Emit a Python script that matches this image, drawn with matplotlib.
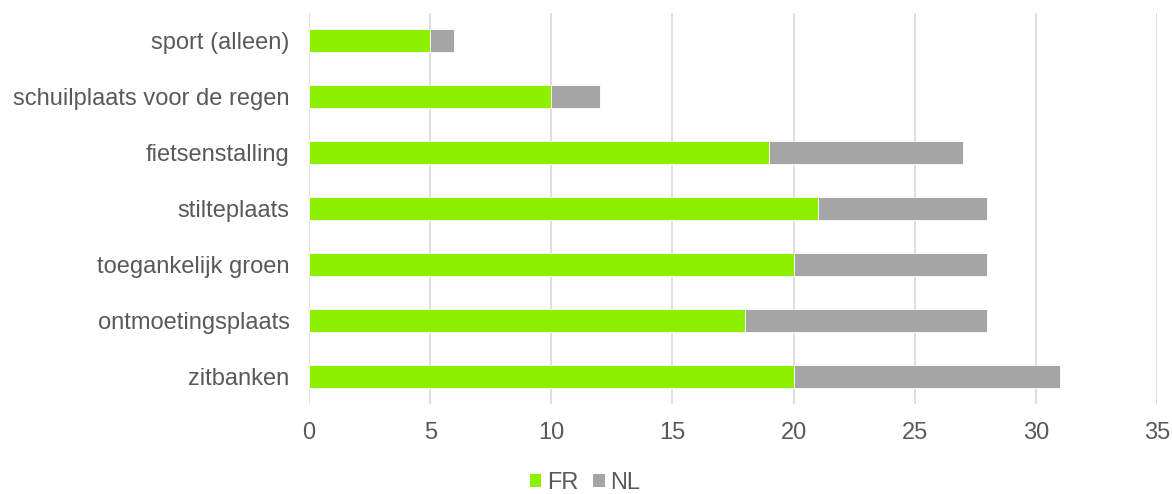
import matplotlib
matplotlib.use("Agg")
import matplotlib.pyplot as plt
from matplotlib.patches import Patch

categories = ["zitbanken", "ontmoetingsplaats", "toegankelijk groen", "stilteplaats",
              "fietsenstalling", "schuilplaats voor de regen", "sport (alleen)"]
fr = [20, 18, 20, 21, 19, 10, 5]
nl = [11, 10, 8, 7, 8, 2, 1]
xticks = [0, 5, 10, 15, 20, 25, 30, 35]

plt.rcParams['font.family'] = ['Liberation Sans', 'DejaVu Sans']
txt = '#595959'
green = '#8CF000'
gray = '#A5A5A5'

fig = plt.figure(figsize=(11.72, 4.94), dpi=100)
ax = fig.add_axes([0.2637, 0.1822, 0.7235, 0.7915])
y = list(range(len(categories)))
ax.barh(y, fr, height=0.41, color=green, edgecolor='white', linewidth=0.6, zorder=3)
ax.barh(y, nl, left=fr, height=0.41, color=gray, edgecolor='white', linewidth=0.6, zorder=3)
ax.set_xlim(0, 35)
ax.set_ylim(-0.5, len(categories) - 0.5)
ax.set_xticks(xticks)
ax.set_xticklabels([str(v) for v in xticks])
ax.set_yticks(y)
ax.set_yticklabels(categories)
ax.grid(axis='x', color='#D9D9D9', linewidth=1.2, zorder=0)
for s in ax.spines.values():
    s.set_visible(False)
ax.tick_params(axis='both', length=0, labelsize=17, colors=txt)
ax.tick_params(axis='x', pad=13)
ax.tick_params(axis='y', pad=14)

handles = [Patch(facecolor=green, label='FR'), Patch(facecolor=gray, label='NL')]
fig.legend(handles=handles, loc='center', bbox_to_anchor=(585/1172, 1 - 483/494), ncol=2,
           frameon=False, fontsize=17, labelcolor=txt, handlelength=0.5, handleheight=0.5,
           handletextpad=0.25, columnspacing=0.6)
fig.savefig('out.png', dpi=100)
